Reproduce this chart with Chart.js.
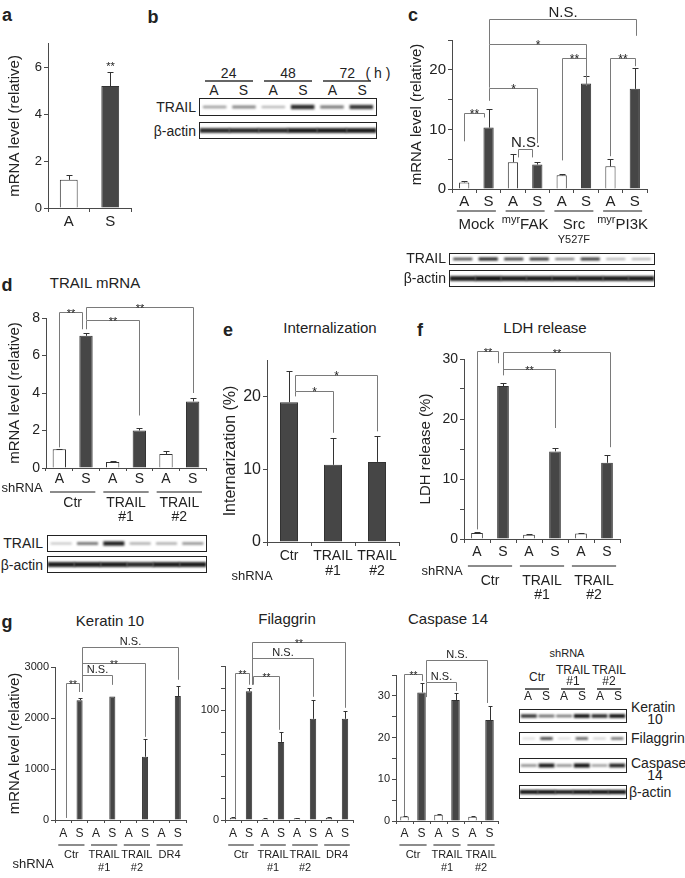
<!DOCTYPE html>
<html>
<head>
<meta charset="utf-8">
<script src="https://cdn.jsdelivr.net/npm/chart.js@4.4.1/dist/chart.umd.min.js"></script>
<style>
  body { margin: 0; background: #fff; }
  #fig { position: relative; width: 685px; height: 878px; overflow: hidden; font-family: 'Liberation Sans', Arial, sans-serif; color: #222; }
  #fig canvas { position: absolute; }
  .lbl { position: absolute; white-space: nowrap; font-size: 14px; line-height: 1; }
  .blot { position: absolute; border: 1px solid #222; box-sizing: border-box; background: #fff; }
  .blot canvas { left: 0; top: 0; }
  .rule { position: absolute; height: 1.5px; background: #666; }
</style>
</head>
<body>
<div id="fig"></div>
<script>
// ---- data ----
// a
const aLabels = ['A', 'S'];
const aMean = [1.2, 5.2];
const aErr = [0.2, 0.6];
const aSig = [['**', 1, 1, 6.1]];

// b (band intensities 0..1)
const bTimes = ['24', '48', '72'];
const bTrail = [0.3, 0.4, 0.2, 0.8, 0.45, 0.75];
const bActin = [0.8, 0.8, 0.8, 0.85, 0.85, 0.85];

// c
const cLabels = ['A', 'S', 'A', 'S', 'A', 'S', 'A', 'S'];
const cMean = [1.1, 10.3, 4.5, 4.1, 2.3, 17.7, 3.8, 16.8];
const cErr = [0.2, 3.2, 1.3, 0.5, 0.3, 1.3, 1.2, 3.5];
const cGroups = [['Mock'], ['FAK'], ['Src', 'Y527F'], ['PI3K']];
const cGroupSup = ['', 'myr', '', 'myr'];
// [text, from, to, level, left leg end, right leg end]
const cSig = [
  ['**', 0, 0.8, 12.7, 8, 12.0],
  ['N.S.', 2.2, 2.8, 6.7, 5.3, 5.3],
  ['*', 1, 3, 17, 14.8, 7.7],
  ['*', 1, 5, 24.3, 17, 17.3],
  ['**', 4, 5, 22, 4.8, 20.3],
  ['**', 6, 7, 22, 5.5, 20.6],
  ['N.S.', 1, 7.05, 28.5, 24.3, 25.7]
];
const cTrail = [0.7, 0.9, 0.75, 0.8, 0.5, 0.8, 0.3, 0.3];
const cActin = [0.85, 0.9, 0.85, 0.85, 0.85, 0.85, 0.85, 0.85];

// d
const dLabels = ['A', 'S', 'A', 'S', 'A', 'S'];
const dMean = [1.0, 7.05, 0.32, 2.0, 0.75, 3.55];
const dErr = [0.03, 0.15, 0.06, 0.13, 0.18, 0.17];
const dGroups = [['Ctr'], ['TRAIL', '#1'], ['TRAIL', '#2']];
const dSig = [
  ['**', 0, 0.85, 8.3, 1.1, 7.4],
  ['**', 1, 3, 7.9, 7.4, 2.8],
  ['**', 1, 5, 8.6, 7.9, 4.0]
];
const dTrail = [0.15, 0.45, 0.85, 0.25, 0.25, 0.35];
const dActin = [0.85, 0.85, 0.85, 0.8, 0.85, 0.85];

// e
const eLabels = [['Ctr'], ['TRAIL', '#1'], ['TRAIL', '#2']];
const eMean = [19.2, 10.6, 11.0];
const eErr = [4.3, 3.7, 3.5];
const eSig = [
  ['*', 0.14, 1, 20.8, 20.0, 15],
  ['*', 0.14, 2, 23, 20.7, 15.2]
];

// f
const fLabels = ['A', 'S', 'A', 'S', 'A', 'S'];
const fMean = [1.0, 25.5, 0.7, 14.6, 0.9, 12.7];
const fErr = [0.1, 0.5, 0.15, 0.5, 0.1, 1.3];
const fGroups = [['Ctr'], ['TRAIL', '#1'], ['TRAIL', '#2']];
const fSig = [
  ['**', 0, 0.8, 31.3, 1.6, 29.3],
  ['**', 1, 3, 28.3, 27.3, 18.5],
  ['**', 1, 5.1, 31.2, 27.3, 15.3]
];

// g
const gLabels8 = ['A', 'S', 'A', 'S', 'A', 'S', 'A', 'S'];
const gLabels6 = ['A', 'S', 'A', 'S', 'A', 'S'];
const gGroups4 = [['Ctr'], ['TRAIL', '#1'], ['TRAIL', '#2'], ['DR4']];
const gGroups3 = [['Ctr'], ['TRAIL', '#1'], ['TRAIL', '#2']];
const kMean = [0, 2350, 0, 2420, 0, 1240, 0, 2430];
const kErr = [0, 40, 0, 0, 0, 350, 0, 190];
const kSig = [
  ['**', 0.2, 0.95, 2690, 40, 2510],
  ['N.S.', 1.15, 2.97, 2840, 2510, 2650],
  ['**', 1.15, 5, 3080, 2510, 1630],
  ['N.S.', 1.15, 7, 3390, 2510, 2750]
];
const fiMean = [2, 117, 1, 71, 1.5, 92, 2, 92];
const fiErr = [0.5, 3, 0.5, 9, 0.5, 17, 1, 7];
const fiSig = [
  ['**', 0.1, 1, 134, 2, 123],
  ['**', 1.25, 2.9, 131, 123, 82],
  ['N.S.', 1.2, 5, 147, 123, 112],
  ['**', 1.2, 7, 162, 123, 102]
];
const csMean = [1.1, 30.8, 1.5, 29.0, 1.0, 24.2];
const csErr = [0.1, 2.4, 0.2, 1.8, 0.3, 3.4];
const csSig = [
  ['**', -0.05, 1, 35.3, 1.2, 33.6],
  ['N.S.', 1.25, 3, 33.3, 29.7, 31.2],
  ['N.S.', 1.25, 4.85, 38.6, 33.3, 28.3]
];
const gKeratin = [0.8, 0.55, 0.5, 0.95, 0.85, 0.95];
const gFilaggrin = [0.1, 0.7, 0.1, 0.6, 0.15, 0.55];
const gCaspase = [0.4, 0.9, 0.4, 0.95, 0.35, 0.85];
const gActin = [0.9, 0.9, 0.85, 0.9, 0.9, 0.9];

// ---- drawing ----
const FONT = "'Liberation Sans', Arial, sans-serif";
const DARK = '#464646';
const AXIS = '#4a4a4a';
const TXT = '#222';
const BRK = '#7a7a7a';
Chart.defaults.font.family = FONT;
Chart.defaults.color = TXT;

const fig = document.getElementById('fig');

function text(t, x, y, size = 14, anchor = 'c', bold = false) {
  const el = document.createElement('div');
  el.className = 'lbl';
  el.innerHTML = t;
  el.style.left = x + 'px';
  el.style.top = y + 'px';
  el.style.fontSize = size + 'px';
  const ax = anchor === 'c' ? -50 : anchor === 'r' ? -100 : 0;
  el.style.transform = `translate(${ax}%, -50%)`;
  if (bold) el.style.fontWeight = 'bold';
  fig.appendChild(el);
}

function rule(x0, x1, y) {
  const el = document.createElement('div');
  el.className = 'rule';
  Object.assign(el.style, { left: x0 + 'px', top: y + 'px', width: (x1 - x0) + 'px' });
  fig.appendChild(el);
}

function barPanel(g, d) {
  const W = g.x1 - g.x0 + g.yW + g.padRight;
  const H = g.y1 - g.y0 + g.padTop + g.xH + g.padBottom;
  const cv = document.createElement('canvas');
  cv.width = W; cv.height = H;
  Object.assign(cv.style, { left: (g.x0 - g.yW) + 'px', top: (g.y0 - g.padTop) + 'px', width: W + 'px', height: H + 'px' });
  fig.appendChild(cv);
  const every = d.labelEvery || d.step;

  const overlay = {
    id: 'overlay',
    afterDatasetsDraw(chart) {
      const { ctx, chartArea, scales: { x, y } } = chart;
      const meta = chart.getDatasetMeta(0);
      ctx.save();
      // error bars
      ctx.strokeStyle = '#333';
      ctx.lineWidth = 1;
      d.err.forEach((e, i) => {
        if (!e) return;
        const px = Math.round(meta.data[i].x) + 0.5;
        const yb = y.getPixelForValue(d.mean[i]);
        const yt = Math.round(y.getPixelForValue(d.mean[i] + e)) + 0.5;
        ctx.beginPath();
        ctx.moveTo(px, yb); ctx.lineTo(px, yt);
        ctx.moveTo(px - d.cap, yt); ctx.lineTo(px + d.cap, yt);
        ctx.stroke();
      });
      // significance brackets
      (d.sig || []).forEach(([t, i, j, lv, le, re]) => {
        const xa = Math.round(x.getPixelForValue(i)) + 0.5;
        const xb = Math.round(x.getPixelForValue(j)) + 0.5;
        const yl = Math.round(y.getPixelForValue(lv)) + 0.5;
        if (i !== j) {
          ctx.strokeStyle = BRK;
          ctx.beginPath();
          ctx.moveTo(xa, y.getPixelForValue(le));
          ctx.lineTo(xa, yl); ctx.lineTo(xb, yl);
          ctx.lineTo(xb, y.getPixelForValue(re));
          ctx.stroke();
        }
        ctx.fillStyle = TXT;
        ctx.textAlign = 'center';
        ctx.textBaseline = 'alphabetic';
        if (t === 'N.S.') {
          ctx.font = `${d.nsSize || 13}px ${FONT}`;
          ctx.fillText(t, (xa + xb) / 2, yl - 3);
        } else {
          ctx.font = `${d.starSize || 11}px ${FONT}`;
          ctx.fillText(t, (xa + xb) / 2, yl + 4);
        }
      });
      // group underlines and names
      const gs = d.gs;
      (d.groups || []).forEach((lines, k) => {
        const i0 = k * 2, i1 = k * 2 + 1;
        const b = chartArea.bottom;
        ctx.strokeStyle = '#666';
        ctx.lineWidth = 1.5;
        ctx.beginPath();
        ctx.moveTo(x.getPixelForValue(i0 - gs.ext), b + gs.line);
        ctx.lineTo(x.getPixelForValue(i1 + gs.ext), b + gs.line);
        ctx.stroke();
        const cx = (x.getPixelForValue(i0) + x.getPixelForValue(i1)) / 2;
        ctx.fillStyle = TXT;
        ctx.textBaseline = 'middle';
        lines.forEach((t, n) => {
          const size = n === 0 ? gs.size : (gs.size2 || gs.size);
          const yy = b + gs.text + n * gs.lh;
          const sup = d.sup && n === 0 ? d.sup[k] : '';
          if (sup) {
            ctx.font = `${size}px ${FONT}`;
            const w1 = ctx.measureText(t).width;
            ctx.font = `${Math.round(size * 0.7)}px ${FONT}`;
            const w0 = ctx.measureText(sup).width;
            const left = cx - (w0 + w1) / 2;
            ctx.textAlign = 'left';
            ctx.fillText(sup, left, yy - size * 0.35);
            ctx.font = `${size}px ${FONT}`;
            ctx.fillText(t, left + w0, yy);
          } else {
            ctx.font = `${size}px ${FONT}`;
            ctx.textAlign = 'center';
            ctx.fillText(t, cx, yy);
          }
        });
      });
      ctx.restore();
    }
  };

  new Chart(cv, {
    type: 'bar',
    data: {
      labels: d.labels,
      datasets: [{
        data: d.mean,
        backgroundColor: d.colors || d.labels.map(l => (l === 'A' ? '#fff' : DARK)),
        borderColor: '#333',
        borderWidth: 1,
        barPercentage: d.barFrac,
        categoryPercentage: 1
      }]
    },
    options: {
      responsive: false,
      animation: false,
      devicePixelRatio: 1,
      layout: { padding: { top: g.padTop, right: g.padRight, bottom: g.padBottom, left: 0 } },
      plugins: { legend: { display: false }, tooltip: { enabled: false } },
      scales: {
        x: {
          grid: { drawOnChartArea: false, color: AXIS, tickLength: d.xTick || 4 },
          border: { color: AXIS },
          ticks: { color: TXT, font: { size: d.xSize, lineHeight: 1.05 }, padding: d.xPad ?? 2, autoSkip: false, maxRotation: 0 },
          afterFit: s => { s.height = g.xH; }
        },
        y: {
          min: 0,
          max: d.max,
          grid: { drawOnChartArea: false, color: AXIS, tickLength: 4 },
          border: { color: AXIS },
          ticks: {
            stepSize: d.step, includeBounds: false, autoSkip: false, color: TXT,
            font: { size: d.ySize }, padding: 2,
            callback: v => (v % every === 0 ? String(v) : '')
          },
          title: { display: !!d.yTitle, text: d.yTitle, color: TXT, font: { size: d.titleSize || 15 }, padding: { top: 0, bottom: 0 } },
          afterFit: s => { s.width = g.yW; }
        }
      }
    },
    plugins: [overlay]
  });
}

function blot(x, y, w, h, bands, bw = 0.8) {
  const box = document.createElement('div');
  box.className = 'blot';
  Object.assign(box.style, { left: x + 'px', top: y + 'px', width: w + 'px', height: h + 'px' });
  fig.appendChild(box);
  const cv = document.createElement('canvas');
  cv.width = w - 2; cv.height = h - 2;
  cv.style.width = (w - 2) + 'px'; cv.style.height = (h - 2) + 'px';
  box.appendChild(cv);
  new Chart(cv, {
    type: 'bar',
    data: {
      labels: bands.map((_, i) => i),
      datasets: [{
        data: bands.map(v => [-(0.1 + 0.22 * v), 0.1 + 0.22 * v]),
        backgroundColor: bands.map(v => `rgba(15,15,15,${Math.min(1, 0.12 + 0.95 * v).toFixed(2)})`),
        barPercentage: bw,
        categoryPercentage: 1,
        borderWidth: 0
      }]
    },
    options: {
      responsive: false, animation: false, devicePixelRatio: 1,
      layout: { padding: 0 },
      plugins: { legend: { display: false }, tooltip: { enabled: false } },
      scales: { x: { display: false }, y: { display: false, min: -1, max: 1 } }
    },
    plugins: [{
      id: 'smear',
      beforeDatasetsDraw(c) { c.ctx.save(); c.ctx.filter = 'blur(1.3px)'; },
      afterDatasetsDraw(c) { c.ctx.restore(); }
    }]
  });
}

// panel letters and titles
[['a', 7, 15], ['b', 153, 17], ['c', 413, 15], ['d', 7, 285], ['e', 228, 330], ['f', 420, 330], ['g', 7, 622]]
  .forEach(([t, x, y]) => text(t, x, y, 18, 'c', true));
text('TRAIL mRNA', 95, 282, 15);
text('Internalization', 330, 327, 15);
text('LDH release', 545, 327, 15);
text('Keratin 10', 110, 620, 15);
text('Filaggrin', 287, 618, 15);
text('Caspase 14', 448, 618, 15);

// a
barPanel({ x0: 48, y0: 40, x1: 131, y1: 208, yW: 42, padTop: 6, padRight: 6, xH: 26, padBottom: 0 },
  { labels: aLabels, mean: aMean, err: aErr, sig: aSig, max: 7, step: 2, barFrac: 0.43, cap: 3,
    xSize: 15, ySize: 13, yTitle: 'mRNA level (relative)' });

// b
const bx = 199, bw = 178, lane6 = bw / 6;
blot(bx, 98, bw, 18, bTrail, 0.8);
blot(bx, 122, bw, 17, bActin, 1);
text('TRAIL', 196, 107, 14, 'r');
text('β-actin', 196, 131, 14, 'r');
bTimes.forEach((t, k) => {
  const cx = bx + lane6 * (2 * k + 1);
  text(t, cx, 73, 14);
  rule(cx - 24, cx + 24, 80);
  text('A', bx + lane6 * (2 * k + 0.5), 90, 14);
  text('S', bx + lane6 * (2 * k + 1.5), 90, 14);
});
text('( h )', 378, 73, 14);

// c
barPanel({ x0: 452, y0: 40, x1: 647, y1: 189, yW: 44, padTop: 40, padRight: 14, xH: 20, padBottom: 42 },
  { labels: cLabels, mean: cMean, err: cErr, sig: cSig, max: 25, step: 5, labelEvery: 10, barFrac: 0.42, cap: 3,
    xSize: 15, ySize: 15, xPad: 1, yTitle: 'mRNA level (relative)', nsSize: 15, starSize: 12,
    groups: cGroups, sup: cGroupSup, gs: { line: 22, text: 36, lh: 15, size: 15, size2: 11, ext: 0.3 } });
blot(449, 253, 206, 12, cTrail, 0.75);
blot(449, 270, 206, 17, cActin, 1);
text('TRAIL', 446, 258, 14, 'r');
text('β-actin', 446, 278, 14, 'r');

// d
barPanel({ x0: 46, y0: 318, x1: 206, y1: 468, yW: 40, padTop: 28, padRight: 6, xH: 20, padBottom: 40 },
  { labels: dLabels, mean: dMean, err: dErr, sig: dSig, max: 8, step: 2, barFrac: 0.5, cap: 3,
    xSize: 14, ySize: 14, xTick: 3, xPad: 1, yTitle: 'mRNA level (relative)',
    groups: dGroups, gs: { line: 24, text: 35, lh: 14, size: 14, ext: 0.35 } });
blot(47, 535, 160, 17, dTrail, 0.8);
blot(47, 556, 160, 17, dActin, 1);
text('TRAIL', 43, 543, 14, 'r');
text('β-actin', 43, 565, 14, 'r');
text('shRNA', 22, 487, 13);

// e
barPanel({ x0: 267, y0: 360, x1: 399, y1: 542, yW: 46, padTop: 14, padRight: 8, xH: 40, padBottom: 0 },
  { labels: eLabels, mean: eMean, err: eErr, sig: eSig, max: 25, step: 10, barFrac: 0.41, cap: 3,
    colors: eLabels.map(() => DARK), xSize: 14, ySize: 16, xPad: 3, yTitle: 'Internarization (%)', titleSize: 16, starSize: 12 });
text('shRNA', 252, 575, 13);

// f
barPanel({ x0: 464, y0: 359, x1: 620, y1: 539, yW: 47, padTop: 26, padRight: 10, xH: 20, padBottom: 48 },
  { labels: fLabels, mean: fMean, err: fErr, sig: fSig, max: 30, step: 5, labelEvery: 10, barFrac: 0.45, cap: 3,
    xSize: 14, ySize: 14, yTitle: 'LDH release (%)',
    groups: fGroups, gs: { line: 27, text: 42, lh: 14, size: 14, ext: 0.35 } });
text('shRNA', 442, 570, 13);

// g
barPanel({ x0: 55, y0: 667, x1: 186, y1: 820, yW: 49, padTop: 40, padRight: 6, xH: 20, padBottom: 38 },
  { labels: gLabels8, mean: kMean, err: kErr, sig: kSig, max: 3000, step: 1000, barFrac: 0.37, cap: 2,
    xSize: 12, ySize: 11, xTick: 3, xPad: 4, yTitle: 'mRNA level (relative)', nsSize: 11, starSize: 10,
    groups: gGroups4, gs: { line: 25, text: 35, lh: 13, size: 11, ext: 0.3 } });
barPanel({ x0: 225, y0: 666, x1: 353, y1: 820, yW: 28, padTop: 40, padRight: 6, xH: 20, padBottom: 38 },
  { labels: gLabels8, mean: fiMean, err: fiErr, sig: fiSig, max: 140, step: 20, labelEvery: 100, barFrac: 0.4, cap: 2,
    xSize: 12, ySize: 11, xTick: 3, xPad: 4, nsSize: 11, starSize: 10,
    groups: gGroups4, gs: { line: 25, text: 35, lh: 13, size: 11, ext: 0.3 } });
barPanel({ x0: 396, y0: 675, x1: 498, y1: 821, yW: 28, padTop: 36, padRight: 6, xH: 20, padBottom: 37 },
  { labels: gLabels6, mean: csMean, err: csErr, sig: csSig, max: 35, step: 5, labelEvery: 10, barFrac: 0.5, cap: 2,
    xSize: 12, ySize: 11, xTick: 3, xPad: 3, nsSize: 11, starSize: 10,
    groups: gGroups3, gs: { line: 24, text: 34, lh: 13, size: 11, ext: 0.3 } });
text('shRNA', 33, 863, 13);

// g blot
const gx = 519, gw = 108, lane = gw / 6;
blot(gx, 709, gw, 14, gKeratin, 0.9);
blot(gx, 732, gw, 13, gFilaggrin, 0.7);
blot(gx, 758, gw, 15, gCaspase, 0.9);
blot(gx, 785, gw, 14, gActin, 1);
text('shRNA', 567, 653, 11);
gGroups3.forEach((lines, k) => {
  const cx = gx + lane * (2 * k + 1);
  if (lines.length === 1) text(lines[0], cx, 677, 12);
  else { text(lines[0], cx, 670, 12); text(lines[1], cx, 681, 12); }
  rule(cx - 12, cx + 12, 688);
  text('A', gx + lane * (2 * k + 0.5), 696, 12);
  text('S', gx + lane * (2 * k + 1.5), 696, 12);
});
text('Keratin', 631, 707, 14, 'l');
text('10', 655, 719, 14);
text('Filaggrin', 631, 738, 14, 'l');
text('Caspase', 631, 763, 14, 'l');
text('14', 655, 775, 14);
text('β-actin', 629, 792, 14, 'l');
</script>
</body>
</html>
